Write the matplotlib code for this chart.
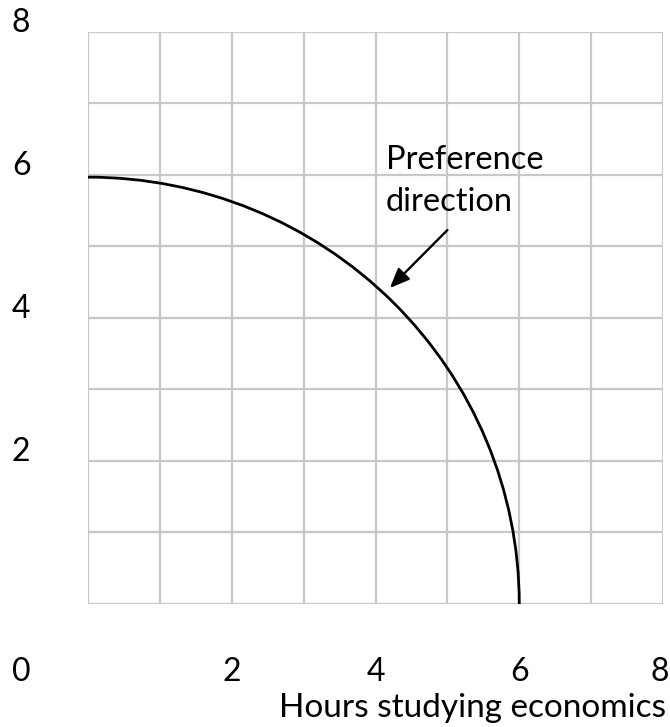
import matplotlib
matplotlib.use("Agg")
import matplotlib.pyplot as plt
from matplotlib.patches import Arc

# axis ticks (labels drawn as text, as in the original)
x_ticks = [2, 4, 6, 8]
y_ticks = [2, 4, 6, 8]

# the frontier: quarter circle centred at the origin
curve_center = (0, 0)
curve_rx = 6.0
curve_ry = 5.97

# annotation
note_text = "Preference\ndirection"
arrow_start = (5.0, 5.23)
arrow_end = (4.2, 4.42)

plt.rcParams['font.family'] = ['Lato', 'DejaVu Sans']
grid_c = '#c8c8c8'

fig = plt.figure(figsize=(6.7, 7.27), dpi=100)
ax = fig.add_axes([0.1313, 0.1692, 0.8583, 0.7868])
ax.set_xlim(0, 8)
ax.set_ylim(0, 8)

# grid
for v in range(9):
    ax.axvline(v, color=grid_c, lw=1.6, zorder=1)
    ax.axhline(v, color=grid_c, lw=1.6, zorder=1)
for s in ax.spines.values():
    s.set_visible(False)
ax.set_xticks([])
ax.set_yticks([])

# curve
arc = Arc(curve_center, 2 * curve_rx, 2 * curve_ry, theta1=0, theta2=90,
          color='black', lw=2.0, zorder=3)
ax.add_patch(arc)

# arrow + label
ax.annotate('', xy=arrow_end, xytext=arrow_start,
            arrowprops=dict(arrowstyle='-|>,head_length=1.2,head_width=0.5',
                            color='black', lw=1.7, shrinkA=0, shrinkB=0),
            zorder=4)
ax.text(4.14, 6.42, note_text, fontsize=23.5, ha='left', va='top',
        linespacing=1.5, zorder=4)

# tick labels (the last x label is nudged in so it stays inside the figure)
fs = 23
for v in x_ticks:
    xpos = v - 0.04 if v == x_ticks[-1] else v
    ax.text(xpos, -0.95, str(v), fontsize=fs, ha='center', va='center', clip_on=False)
for v in y_ticks:
    ax.text(-0.93, v + 0.12, str(v), fontsize=fs, ha='center', va='center', clip_on=False)
ax.text(-0.93, -0.95, '0', fontsize=fs, ha='center', va='center', clip_on=False)
ax.text(8.04, -1.58, 'Hours studying economics', fontsize=24, ha='right',
        va='baseline', clip_on=False)

fig.savefig('out.png', dpi=100)
